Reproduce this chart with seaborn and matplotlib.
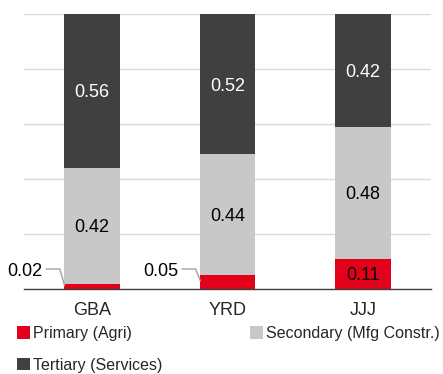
import numpy as np
import pandas as pd
import matplotlib
matplotlib.use("Agg")
import matplotlib.pyplot as plt
import seaborn as sns
from matplotlib.patches import Patch

sns.set_theme(style="white")
plt.rcParams['font.family'] = ['Liberation Sans', 'DejaVu Sans']

# data
regions = ["GBA", "YRD", "JJJ"]
primary = [0.02, 0.05, 0.11]
secondary = [0.42, 0.44, 0.48]
tertiary = [0.56, 0.52, 0.42]
series_names = ["Primary (Agri)", "Secondary (Mfg Constr.)", "Tertiary (Services)"]
colors = ["#E2001A", "#C8C8C8", "#404040"]
text_colors = ["black", "black", "white"]

df = pd.DataFrame({"region": regions, "primary": primary,
                   "secondary": secondary, "tertiary": tertiary})

fig = plt.figure(figsize=(4.43, 3.74), dpi=100)
ax = fig.add_axes([0.054, 0.227, 0.919, 0.736])

bar_w = 0.41
bottoms = np.zeros(len(regions))
for col, c, tc in zip(["primary", "secondary", "tertiary"], colors, text_colors):
    sns.barplot(data=df, x="region", y=col, color=c, width=bar_w,
                bottom=bottoms.copy(), ax=ax, saturation=1, linewidth=0)
    for i, v in enumerate(df[col]):
        if v >= 0.1:
            ax.text(i, min(bottoms[i] + v / 2, 1 - (1 - bottoms[i]) / 2), f"{v:.2f}",
                    ha="center", va="center_baseline", color=tc, fontsize=13)
    bottoms += df[col].values

# small primary values with leader lines
for i, v in enumerate(primary):
    if v < 0.1:
        xl = i - bar_w / 2
        ly = 0.073
        ax.plot([xl - 0.13, xl - 0.03, xl + 0.005], [ly, ly, v * 0.6],
                color="#A0A0A0", lw=1, clip_on=False)
        ax.text(xl - 0.16, ly, f"{v:.2f}", ha="right", va="center_baseline",
                fontsize=13, color="black")

ax.set_xlim(-0.5, 2.5)
ax.set_ylim(0, 1.0)
ax.set_yticks(np.arange(0, 1.01, 0.2))
ax.set_yticklabels([])
ax.yaxis.grid(True, color="#D9D9D9", lw=1)
ax.set_axisbelow(True)
for s in ["top", "right", "left"]:
    ax.spines[s].set_visible(False)
ax.spines["bottom"].set_color("#404040")
ax.spines["bottom"].set_linewidth(1)
ax.tick_params(axis="x", length=0, pad=9, labelsize=13)
ax.tick_params(axis="y", length=0)
ax.set_xlabel("")
ax.set_ylabel("")

# row-wise legend order: Primary, Secondary / Tertiary
order = [0, 2, 1]
handles = [Patch(facecolor=colors[k], edgecolor="none") for k in order]
labels = [series_names[k] for k in order]
fig.legend(handles, labels, ncol=2, loc="upper left",
           bbox_to_anchor=(0.038, 0.128), frameon=False, fontsize=11.5,
           handlelength=0.8, handleheight=0.8, handletextpad=0.2,
           columnspacing=5.5, labelspacing=1.05, borderaxespad=0, borderpad=0)

fig.savefig("out.png", dpi=100)
